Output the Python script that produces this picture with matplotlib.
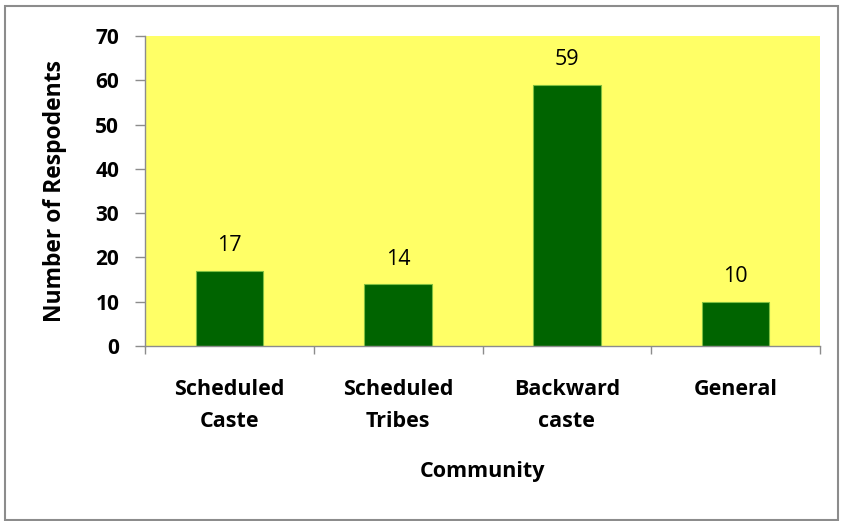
import matplotlib
matplotlib.use("Agg")
import matplotlib.pyplot as plt
from matplotlib.patches import Rectangle

categories = ["Scheduled\nCaste", "Scheduled\nTribes", "Backward\ncaste", "General"]
values = [17, 14, 59, 10]
yticks = [0, 10, 20, 30, 40, 50, 60, 70]

plt.rcParams['font.family'] = ['Open Sans', 'DejaVu Sans']

fig = plt.figure(figsize=(8.43, 5.21), dpi=100)
fig.patches.append(Rectangle((5/843, 1/521), 833/843, 514/521, transform=fig.transFigure,
                             fill=False, edgecolor='#8c8c8c', linewidth=1.5))
ax = fig.add_axes([145/843, 1 - 346/521, (820-145)/843, (346-36)/521])
ax.set_facecolor('#FFFF66')
x = list(range(len(categories)))
bars = ax.bar(x, values, width=0.4, color='#006400', edgecolor='#7FBF3F', linewidth=0.8)
for xi, v in zip(x, values):
    ax.text(xi, v + 5.6, str(v), ha='center', va='center', fontsize=15.5)
ax.set_xlim(-0.5, 3.5)
ax.set_ylim(0, 70)
ax.set_yticks(yticks)
ax.set_yticklabels([str(t) for t in yticks], fontsize=15, fontweight='bold')
ax.set_xticks([-0.5, 0.5, 1.5, 2.5, 3.5])
ax.set_xticklabels([])
ax.set_xticks(x, minor=True)
ax.set_xticklabels(categories, minor=True, fontsize=15.5, fontweight='bold', linespacing=1.65)
ax.tick_params(axis='x', which='minor', length=0, pad=24)
ax.tick_params(axis='x', which='major', length=6, color='#8c8c8c', width=1)
ax.tick_params(axis='y', length=7.5, color='#8c8c8c', width=1, pad=11)
for s in ['top', 'right']:
    ax.spines[s].set_visible(False)
for s in ['left', 'bottom']:
    ax.spines[s].set_color('#8c8c8c')
    ax.spines[s].set_linewidth(1)
ax.set_xlabel("Community", fontsize=15.5, fontweight='bold', va='center')
ax.xaxis.set_label_coords(0.5, (346 - 472) / 310)
ax.set_ylabel("Number of Respodents", fontsize=16.5, fontweight='bold', va='center')
ax.yaxis.set_label_coords((55 - 145) / 675, 0.5)
fig.savefig("out.png", dpi=100)
